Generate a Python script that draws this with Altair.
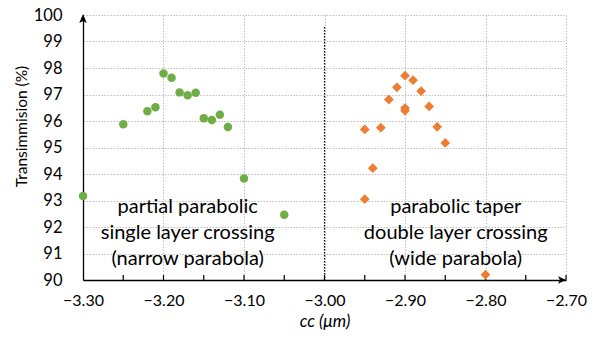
import altair as alt
import pandas as pd

# Measured transmission for the two crossing geometries
narrow_cc = [-3.30, -3.25, -3.22, -3.21, -3.20, -3.19, -3.18, -3.17, -3.16,
             -3.15, -3.14, -3.13, -3.12, -3.10, -3.05]
narrow_t = [93.17, 95.88, 96.37, 96.52, 97.79, 97.63, 97.08, 96.97, 97.07,
            96.10, 96.04, 96.24, 95.77, 93.83, 92.46]

wide_cc = [-2.95, -2.95, -2.94, -2.93, -2.92, -2.91, -2.90, -2.90, -2.90,
           -2.89, -2.88, -2.87, -2.86, -2.85, -2.80]
wide_t = [93.05, 95.68, 94.22, 95.75, 96.81, 97.27, 97.71, 96.49, 96.39,
          97.54, 97.13, 96.55, 95.78, 95.17, 90.20]

x_ticks = [-3.30, -3.20, -3.10, -3.00, -2.90, -2.80, -2.70]
x_minor_ticks = [-3.25, -3.20, -3.15, -3.10, -3.05, -3.00, -2.95, -2.90,
                 -2.85, -2.80, -2.75, -2.70]
y_ticks = [90, 91, 92, 93, 94, 95, 96, 97, 98, 99, 100]

FONT = "Lato"
X_DOMAIN = [-3.30, -2.70]
Y_DOMAIN = [90, 100]

narrow_df = pd.DataFrame({"cc": narrow_cc, "t": narrow_t})
wide_df = pd.DataFrame({"cc": wide_cc, "t": wide_t})

x_axis = alt.Axis(
    values=x_ticks, format=".2f", title="cc (μm)",
    titleFontStyle="italic", titleFontWeight="normal", titleFontSize=17,
    titleFont=FONT, titleColor="#000", titlePadding=5,
    labelFont=FONT, labelFontSize=16, labelColor="#000", labelPadding=12,
    labelOverlap=False,
    ticks=False, tickSize=0, domainColor="#000", domainWidth=1.3,
    grid=True, gridColor="#bdbdbd", gridDash=[1.5, 1.5], gridWidth=1,
    labelFlush=False,
)
y_axis = alt.Axis(
    values=y_ticks, tickCount=11, format="d", title="Transimmision (%)",
    titleFont=FONT, titleFontSize=15.5, titleFontWeight="normal",
    titleColor="#000", titleAngle=-90, titleAlign="center",
    titleBaseline="middle", titleX=-62, titleY=111,
    labelFont=FONT, labelFontSize=16.5, labelColor="#000", labelPadding=21,
    labelOverlap=False,
    ticks=False, tickSize=0, domainColor="#000", domainWidth=1.3,
    grid=True, gridColor="#bdbdbd", gridDash=[1.5, 1.5], gridWidth=1,
    labelFlush=False,
)

x_scale = alt.Scale(domain=X_DOMAIN, nice=False, zero=False)
y_scale = alt.Scale(domain=Y_DOMAIN, nice=False, zero=False)


def xy(x_field="cc", y_field="t"):
    """Shared position channels so every layer carries the same axes."""
    return dict(
        x=alt.X(f"{x_field}:Q", scale=x_scale, axis=x_axis),
        y=alt.Y(f"{y_field}:Q", scale=y_scale, axis=y_axis),
    )


narrow = alt.Chart(narrow_df).mark_circle(
    size=72, color="#70ad47", opacity=1
).encode(**xy())

wide = alt.Chart(wide_df).mark_point(
    shape="diamond", filled=True, size=95, color="#ed7d31", opacity=1
).encode(**xy())

# Dotted separator between the two regimes
divider = alt.Chart(pd.DataFrame({"cc": [-3.00], "t": [99.55], "t2": [90]})).mark_rule(
    color="#000", strokeDash=[1.5, 1.5], strokeWidth=1.2
).encode(**xy(), y2="t2:Q")

# Inward-pointing tick marks along the cc axis
ticks = alt.Chart(pd.DataFrame({"cc": x_minor_ticks})).mark_rule(
    color="#000", strokeWidth=1.2
).encode(x=alt.X("cc:Q", scale=x_scale, axis=x_axis),
         y=alt.value(260), y2=alt.value(265))

# Arrow heads at the ends of both axes
arrow_up = alt.Chart(pd.DataFrame({"cc": [X_DOMAIN[0]], "t": [Y_DOMAIN[1]]})).mark_point(
    shape="M0,-0.2L-0.75,1.6L0,1.2L0.75,1.6Z", filled=True, size=100,
    color="#000", opacity=1
).encode(**xy())
arrow_right = alt.Chart(pd.DataFrame({"cc": [X_DOMAIN[1]], "t": [Y_DOMAIN[0]]})).mark_point(
    shape="M0,0L-1.6,-0.75L-1.2,0L-1.6,0.75Z", filled=True, size=100,
    color="#000", opacity=1
).encode(**xy())

# Annotation blocks, anchored at their first line
labels_df = pd.DataFrame({
    "cc": [-3.170, -2.837],
    "t": [92.77, 92.77],
    "label": [
        "partial parabolic\nsingle layer crossing\n(narrow parabola)",
        "parabolic taper\ndouble layer crossing\n(wide parabola)",
    ],
})
labels = alt.Chart(labels_df).mark_text(
    font=FONT, fontSize=20, color="#000", align="center", baseline="middle",
    lineBreak="\n", lineHeight=26
).encode(**xy(), text="label:N")

chart = alt.layer(
    narrow, divider, ticks, wide, labels, arrow_up, arrow_right
).properties(
    width=483, height=265,
    autosize=alt.AutoSizeParams(type="none"),
    padding={"left": 83, "top": 15, "right": 32, "bottom": 59},
    background="white",
).configure_view(stroke=None)

chart.save("out.html", embed_options={"renderer": "svg", "actions": False})
